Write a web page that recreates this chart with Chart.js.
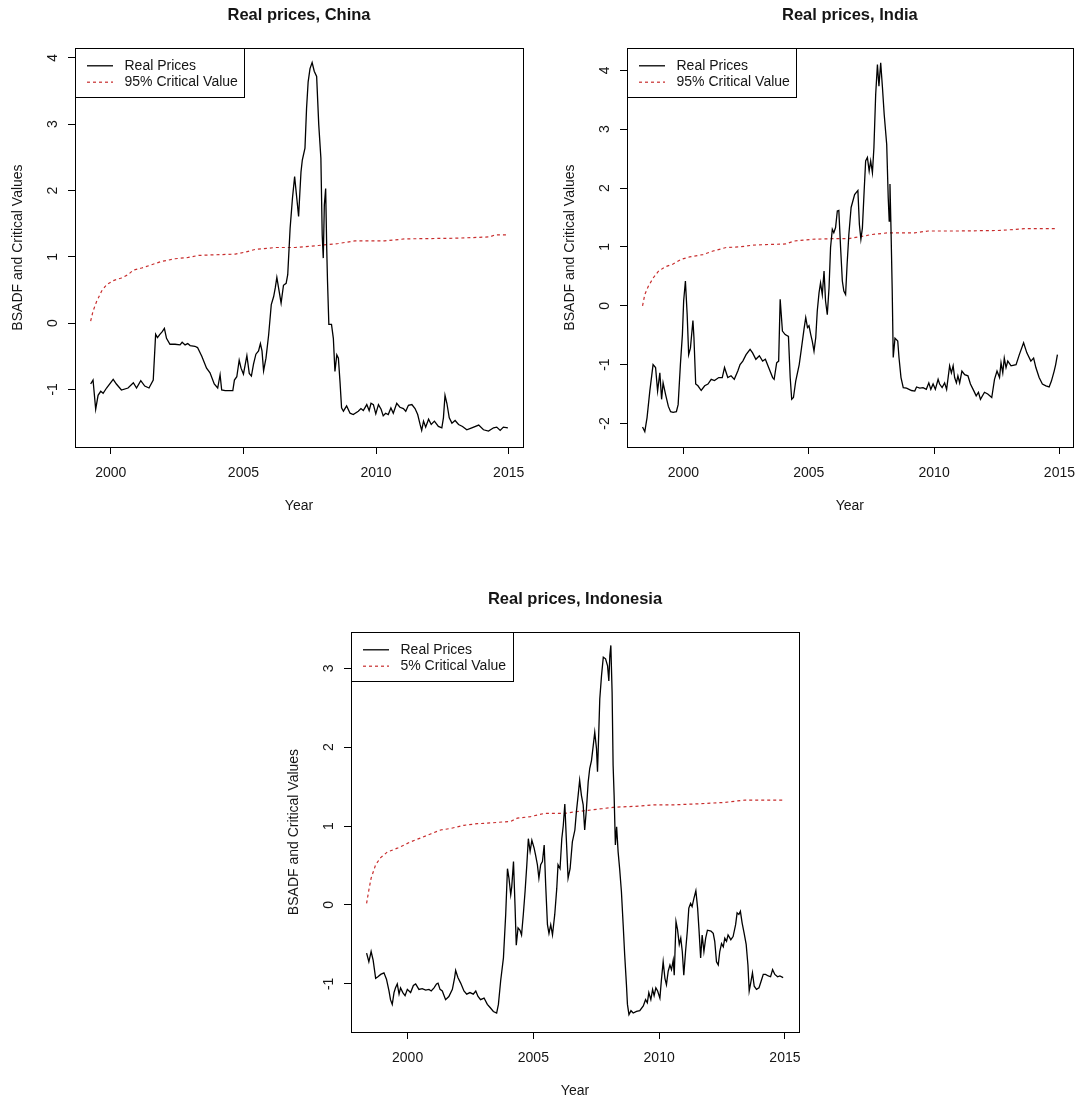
<!DOCTYPE html>
<html>
<head>
<meta charset="utf-8">
<title>Real prices BSADF</title>
<script src="https://cdn.jsdelivr.net/npm/chart.js@4.4.1/dist/chart.umd.min.js"></script>
<style>
  body { margin: 0; background: #fff; }
  #page { position: relative; width: 1086px; height: 1102px; background: #fff; }
  canvas { position: absolute; }
</style>
</head>
<body>
<div id="page">
  <canvas id="china" width="543" height="517" style="left:0px;top:0px"></canvas>
  <canvas id="india" width="534" height="517" style="left:552px;top:0px"></canvas>
  <canvas id="indonesia" width="543" height="518" style="left:276px;top:584px"></canvas>
</div>
<script>
// values, [year, value]
const chinaBsadf = [[1999.24,-0.92],[1999.33,-0.86],[1999.43,-1.30],[1999.52,-1.09],[1999.62,-1.03],[1999.71,-1.06],[1999.84,-0.98],[2000.09,-0.85],[2000.21,-0.92],[2000.40,-1.01],
  [2000.65,-0.98],[2000.85,-0.90],[2000.97,-0.98],[2001.13,-0.87],[2001.28,-0.95],[2001.44,-0.98],[2001.60,-0.86],[2001.69,-0.17],[2001.76,-0.22],[2001.85,-0.17],
  [2001.94,-0.13],[2002.02,-0.08],[2002.10,-0.23],[2002.23,-0.32],[2002.42,-0.32],[2002.61,-0.33],[2002.69,-0.29],[2002.80,-0.33],[2002.90,-0.31],[2002.99,-0.34],
  [2003.17,-0.35],[2003.27,-0.37],[2003.43,-0.50],[2003.61,-0.68],[2003.74,-0.75],[2003.90,-0.92],[2004.03,-0.98],[2004.12,-0.78],[2004.18,-1.01],[2004.31,-1.02],
  [2004.60,-1.02],[2004.66,-0.86],[2004.75,-0.81],[2004.84,-0.56],[2004.91,-0.68],[2005.00,-0.77],[2005.13,-0.49],[2005.22,-0.76],[2005.30,-0.80],[2005.38,-0.62],
  [2005.47,-0.47],[2005.57,-0.42],[2005.64,-0.31],[2005.70,-0.42],[2005.76,-0.72],[2005.85,-0.53],[2005.95,-0.18],[2006.05,0.28],[2006.14,0.40],[2006.20,0.53],
  [2006.26,0.69],[2006.35,0.47],[2006.42,0.30],[2006.51,0.57],[2006.61,0.60],[2006.67,0.73],[2006.76,1.43],[2006.85,1.89],[2006.93,2.21],[2007.01,1.89],
  [2007.08,1.61],[2007.13,1.99],[2007.17,2.28],[2007.22,2.46],[2007.32,2.64],[2007.38,3.24],[2007.44,3.64],[2007.51,3.84],[2007.59,3.93],[2007.67,3.80],
  [2007.76,3.72],[2007.84,2.99],[2007.92,2.49],[2007.97,1.33],[2008.01,0.98],[2008.05,1.78],[2008.10,2.03],[2008.14,1.13],[2008.17,0.63],[2008.22,-0.02],
  [2008.32,-0.02],[2008.39,-0.23],[2008.45,-0.73],[2008.52,-0.48],[2008.58,-0.53],[2008.64,-0.88],[2008.70,-1.28],[2008.77,-1.33],[2008.89,-1.25],[2009.02,-1.36],
  [2009.14,-1.38],[2009.33,-1.33],[2009.43,-1.29],[2009.52,-1.32],[2009.65,-1.23],[2009.74,-1.32],[2009.81,-1.21],[2009.90,-1.23],[2009.99,-1.37],[2010.09,-1.23],
  [2010.19,-1.30],[2010.27,-1.40],[2010.36,-1.36],[2010.46,-1.38],[2010.56,-1.28],[2010.65,-1.36],[2010.78,-1.21],[2010.90,-1.27],[2011.03,-1.29],[2011.12,-1.33],
  [2011.22,-1.24],[2011.35,-1.23],[2011.47,-1.29],[2011.57,-1.38],[2011.66,-1.53],[2011.72,-1.62],[2011.79,-1.48],[2011.87,-1.57],[2011.98,-1.45],[2012.08,-1.53],
  [2012.20,-1.48],[2012.35,-1.56],[2012.48,-1.58],[2012.54,-1.43],[2012.60,-1.09],[2012.67,-1.21],[2012.76,-1.43],[2012.86,-1.51],[2012.98,-1.47],[2013.11,-1.53],
  [2013.26,-1.56],[2013.42,-1.61],[2013.61,-1.58],[2013.87,-1.54],[2014.05,-1.61],[2014.24,-1.63],[2014.43,-1.58],[2014.55,-1.57],[2014.68,-1.62],[2014.80,-1.57],
  [2014.97,-1.58]];
const chinaCrit = [[1999.24,0.03],[1999.33,0.18],[1999.46,0.32],[1999.65,0.48],[1999.84,0.58],[2000.09,0.64],[2000.40,0.68],[2000.65,0.73],[2000.85,0.80],[2001.16,0.83],
  [2001.54,0.88],[2001.91,0.93],[2002.42,0.97],[2002.92,0.99],[2003.30,1.02],[2003.93,1.03],[2004.69,1.04],[2005.06,1.07],[2005.44,1.11],[2006.20,1.14],
  [2006.95,1.14],[2007.82,1.17],[2008.58,1.20],[2009.20,1.24],[2010.33,1.24],[2011.09,1.27],[2012.98,1.28],[2014.29,1.30],[2014.48,1.33],[2014.97,1.33]];

const indiaBsadf = [[1998.37,-2.06],[1998.46,-2.14],[1998.55,-1.90],[1998.66,-1.45],[1998.79,-1.00],[1998.89,-1.05],[1998.97,-1.45],[1999.06,-1.14],[1999.13,-1.59],[1999.19,-1.31],
  [1999.29,-1.51],[1999.40,-1.71],[1999.49,-1.80],[1999.59,-1.81],[1999.72,-1.80],[1999.79,-1.68],[1999.88,-1.00],[1999.96,-0.49],[2000.01,0.08],[2000.08,0.42],
  [2000.15,-0.15],[2000.21,-0.83],[2000.28,-0.72],[2000.38,-0.25],[2000.42,-0.54],[2000.49,-1.33],[2000.58,-1.36],[2000.71,-1.44],[2000.85,-1.36],[2000.98,-1.33],
  [2001.11,-1.25],[2001.24,-1.27],[2001.41,-1.22],[2001.55,-1.22],[2001.64,-1.05],[2001.77,-1.22],[2001.90,-1.19],[2002.03,-1.25],[2002.17,-1.11],[2002.26,-1.00],
  [2002.37,-0.94],[2002.50,-0.83],[2002.66,-0.74],[2002.76,-0.80],[2002.89,-0.91],[2003.03,-0.85],[2003.16,-0.94],[2003.27,-0.91],[2003.40,-1.05],[2003.56,-1.22],
  [2003.62,-1.25],[2003.72,-0.97],[2003.80,-0.94],[2003.86,0.11],[2003.95,-0.43],[2004.06,-0.49],[2004.19,-0.52],[2004.26,-1.22],[2004.32,-1.59],[2004.39,-1.56],
  [2004.48,-1.28],[2004.62,-1.00],[2004.71,-0.72],[2004.81,-0.40],[2004.88,-0.20],[2004.95,-0.37],[2005.01,-0.34],[2005.08,-0.49],[2005.14,-0.60],[2005.21,-0.77],
  [2005.28,-0.54],[2005.34,-0.09],[2005.41,0.22],[2005.47,0.39],[2005.54,0.19],[2005.61,0.59],[2005.67,0.08],[2005.74,-0.15],[2005.81,0.31],[2005.87,0.99],
  [2005.94,1.30],[2006.00,1.24],[2006.07,1.33],[2006.14,1.61],[2006.20,1.62],[2006.27,0.99],[2006.34,0.42],[2006.40,0.25],[2006.47,0.19],[2006.53,0.70],
  [2006.60,1.21],[2006.69,1.67],[2006.83,1.89],[2006.96,1.96],[2007.02,1.38],[2007.08,1.13],[2007.14,1.32],[2007.21,1.95],[2007.27,2.46],[2007.34,2.52],
  [2007.41,2.29],[2007.47,2.46],[2007.54,2.26],[2007.60,2.69],[2007.67,3.59],[2007.74,4.10],[2007.80,3.73],[2007.87,4.13],[2007.94,3.71],[2008.01,3.25],
  [2008.11,2.74],[2008.17,1.84],[2008.21,1.44],[2008.24,2.07],[2008.28,1.33],[2008.33,0.25],[2008.37,-0.88],[2008.44,-0.55],[2008.55,-0.60],[2008.60,-0.88],
  [2008.68,-1.22],[2008.77,-1.39],[2008.90,-1.40],[2009.10,-1.44],[2009.23,-1.45],[2009.30,-1.38],[2009.43,-1.40],[2009.56,-1.39],[2009.69,-1.42],[2009.79,-1.31],
  [2009.87,-1.42],[2009.96,-1.33],[2010.05,-1.42],[2010.16,-1.25],[2010.22,-1.33],[2010.32,-1.39],[2010.42,-1.31],[2010.50,-1.42],[2010.62,-1.02],[2010.69,-1.14],
  [2010.76,-1.02],[2010.82,-1.22],[2010.89,-1.31],[2010.95,-1.19],[2011.02,-1.31],[2011.11,-1.11],[2011.22,-1.17],[2011.35,-1.19],[2011.45,-1.33],[2011.59,-1.45],
  [2011.68,-1.53],[2011.77,-1.47],[2011.85,-1.59],[2012.01,-1.47],[2012.14,-1.50],[2012.30,-1.56],[2012.41,-1.25],[2012.51,-1.11],[2012.61,-1.22],[2012.67,-0.97],
  [2012.74,-1.14],[2012.80,-0.89],[2012.87,-1.05],[2012.94,-0.94],[2013.07,-1.02],[2013.27,-1.00],[2013.40,-0.83],[2013.57,-0.63],[2013.70,-0.80],[2013.86,-0.94],
  [2013.97,-0.89],[2014.06,-1.05],[2014.19,-1.22],[2014.32,-1.33],[2014.46,-1.36],[2014.59,-1.38],[2014.68,-1.28],[2014.79,-1.11],[2014.85,-1.00],[2014.92,-0.83]];
const indiaCrit = [[1998.37,0.00],[1998.46,0.19],[1998.60,0.33],[1998.79,0.47],[1998.99,0.58],[1999.26,0.66],[1999.59,0.71],[1999.92,0.79],[2000.25,0.83],[2000.78,0.87],
  [2001.18,0.93],[2001.71,0.99],[2002.24,1.00],[2002.76,1.03],[2003.29,1.04],[2004.08,1.05],[2004.42,1.10],[2005.14,1.13],[2005.94,1.14],[2006.60,1.14],
  [2007.51,1.21],[2008.17,1.24],[2009.23,1.24],[2009.76,1.27],[2010.95,1.27],[2012.67,1.28],[2013.60,1.31],[2014.92,1.31]];

const indonesiaBsadf = [[1998.37,-0.61],[1998.46,-0.72],[1998.55,-0.59],[1998.63,-0.70],[1998.73,-0.93],[1998.82,-0.91],[1998.93,-0.88],[1999.06,-0.86],[1999.16,-0.94],[1999.26,-1.09],
  [1999.32,-1.20],[1999.39,-1.26],[1999.46,-1.11],[1999.52,-1.05],[1999.59,-1.00],[1999.66,-1.13],[1999.72,-1.05],[1999.81,-1.11],[1999.90,-1.15],[1999.99,-1.07],
  [2000.12,-1.11],[2000.23,-1.02],[2000.32,-1.00],[2000.45,-1.07],[2000.58,-1.06],[2000.72,-1.08],[2000.85,-1.07],[2000.94,-1.09],[2001.05,-1.05],[2001.15,-1.00],
  [2001.21,-0.99],[2001.29,-1.07],[2001.38,-1.09],[2001.51,-1.20],[2001.64,-1.16],[2001.78,-1.07],[2001.87,-0.92],[2001.91,-0.83],[2002.00,-0.92],[2002.11,-0.99],
  [2002.24,-1.09],[2002.35,-1.13],[2002.48,-1.11],[2002.61,-1.13],[2002.71,-1.09],[2002.80,-1.16],[2002.90,-1.20],[2003.04,-1.18],[2003.17,-1.26],[2003.28,-1.30],
  [2003.41,-1.35],[2003.54,-1.37],[2003.61,-1.26],[2003.70,-0.96],[2003.81,-0.67],[2003.90,-0.12],[2003.97,0.46],[2004.03,0.34],[2004.10,0.13],[2004.14,0.23],
  [2004.21,0.55],[2004.27,0.00],[2004.32,-0.51],[2004.39,-0.29],[2004.47,-0.32],[2004.53,-0.38],[2004.60,-0.12],[2004.67,0.17],[2004.74,0.51],[2004.80,0.84],
  [2004.87,0.68],[2004.94,0.82],[2005.03,0.72],[2005.09,0.63],[2005.16,0.51],[2005.22,0.34],[2005.29,0.51],[2005.36,0.55],[2005.43,0.76],[2005.49,0.25],
  [2005.56,-0.25],[2005.62,-0.36],[2005.69,-0.25],[2005.76,-0.38],[2005.85,-0.12],[2005.93,0.21],[2005.98,0.51],[2006.06,0.46],[2006.13,0.84],[2006.19,1.01],
  [2006.25,1.28],[2006.31,0.84],[2006.38,0.34],[2006.46,0.46],[2006.55,0.80],[2006.65,0.95],[2006.71,1.18],[2006.78,1.39],[2006.84,1.58],[2006.91,1.39],
  [2006.98,1.27],[2007.04,0.95],[2007.11,1.22],[2007.18,1.56],[2007.24,1.73],[2007.31,1.83],[2007.38,2.02],[2007.44,2.19],[2007.51,1.98],[2007.55,1.69],
  [2007.60,2.19],[2007.64,2.61],[2007.71,2.91],[2007.78,3.14],[2007.87,3.12],[2007.95,3.03],[2008.00,2.84],[2008.04,3.16],[2008.08,3.29],[2008.13,2.70],
  [2008.17,1.77],[2008.21,1.39],[2008.26,0.76],[2008.31,0.99],[2008.37,0.67],[2008.43,0.46],[2008.50,0.17],[2008.57,-0.25],[2008.63,-0.63],[2008.70,-1.01],
  [2008.74,-1.26],[2008.80,-1.39],[2008.88,-1.34],[2008.97,-1.37],[2009.10,-1.35],[2009.23,-1.34],[2009.37,-1.28],[2009.46,-1.20],[2009.53,-1.24],[2009.59,-1.11],
  [2009.67,-1.20],[2009.74,-1.07],[2009.80,-1.15],[2009.87,-1.05],[2009.94,-1.09],[2010.03,-1.18],[2010.09,-0.95],[2010.16,-0.72],[2010.23,-0.93],[2010.29,-1.01],
  [2010.36,-0.84],[2010.43,-0.76],[2010.49,-0.82],[2010.56,-0.70],[2010.60,-0.89],[2010.67,-0.21],[2010.73,-0.31],[2010.80,-0.50],[2010.86,-0.42],[2010.92,-0.59],
  [2010.98,-0.89],[2011.05,-0.59],[2011.12,-0.33],[2011.18,-0.04],[2011.25,0.02],[2011.31,-0.02],[2011.38,0.08],[2011.46,0.18],[2011.53,-0.04],[2011.58,-0.29],
  [2011.65,-0.67],[2011.71,-0.38],[2011.78,-0.59],[2011.85,-0.42],[2011.92,-0.32],[2012.06,-0.33],[2012.15,-0.36],[2012.21,-0.46],[2012.28,-0.72],[2012.35,-0.76],
  [2012.41,-0.59],[2012.48,-0.49],[2012.55,-0.53],[2012.61,-0.42],[2012.68,-0.46],[2012.74,-0.38],[2012.85,-0.44],[2012.94,-0.40],[2013.04,-0.25],[2013.10,-0.10],
  [2013.17,-0.12],[2013.23,-0.08],[2013.30,-0.23],[2013.38,-0.36],[2013.46,-0.50],[2013.53,-0.76],[2013.58,-1.09],[2013.65,-0.97],[2013.71,-0.86],[2013.78,-1.03],
  [2013.87,-1.07],[2013.97,-1.05],[2014.05,-0.97],[2014.14,-0.88],[2014.23,-0.88],[2014.34,-0.90],[2014.43,-0.91],[2014.51,-0.82],[2014.60,-0.88],[2014.71,-0.91],
  [2014.80,-0.90],[2014.93,-0.92]];
const indonesiaCrit = [[1998.37,0.02],[1998.46,0.19],[1998.55,0.34],[1998.73,0.51],[1998.93,0.60],[1999.19,0.67],[1999.59,0.72],[1999.86,0.76],[2000.12,0.80],[2000.52,0.85],
  [2000.91,0.90],[2001.31,0.95],[2001.71,0.97],[2002.24,1.01],[2002.77,1.03],[2003.30,1.04],[2004.10,1.06],[2004.36,1.10],[2004.89,1.12],[2005.43,1.16],
  [2006.22,1.16],[2006.65,1.18],[2007.18,1.20],[2007.71,1.22],[2008.24,1.24],[2009.03,1.25],[2009.83,1.27],[2010.63,1.27],[2011.42,1.28],[2012.62,1.30],
  [2013.41,1.33],[2014.93,1.33]];

const xTicks = [2000, 2005, 2010, 2015];
const chinaYTicks = [-1, 0, 1, 2, 3, 4];
const indiaYTicks = [-2, -1, 0, 1, 2, 3, 4];
const indonesiaYTicks = [-1, 0, 1, 2, 3];

const FAMILY = '"Liberation Sans", Arial, Helvetica, sans-serif';
const TEXT = '#151515';

// draws the box round the plot and the legend in its top-left corner
const frameAndLegend = {
  id: 'frameAndLegend',
  afterDraw(chart) {
    const { ctx, chartArea: a } = chart;
    ctx.save();
    ctx.strokeStyle = '#000';
    ctx.lineWidth = 1;
    ctx.strokeRect(Math.round(a.left) + 0.5, Math.round(a.top) + 0.5, Math.round(a.width), Math.round(a.height));

    const ds = chart.data.datasets;
    ctx.font = '14px ' + FAMILY;
    const textW = Math.max(...ds.map(d => ctx.measureText(d.label).width));
    const x0 = Math.round(a.left) + 0.5, y0 = Math.round(a.top) + 0.5;
    const w = Math.round(49 + textW + 7), h = 49;
    ctx.fillStyle = '#fff';
    ctx.fillRect(x0, y0, w, h);
    ctx.strokeRect(x0, y0, w, h);
    ds.forEach((d, i) => {
      const y = y0 + 17.3 + i * 16.4;
      ctx.strokeStyle = d.borderColor;
      ctx.lineWidth = d.borderWidth;
      ctx.setLineDash(d.borderDash || []);
      ctx.beginPath();
      ctx.moveTo(x0 + 11.5, y);
      ctx.lineTo(x0 + 37.5, y);
      ctx.stroke();
      ctx.setLineDash([]);
      ctx.fillStyle = TEXT;
      ctx.textBaseline = 'middle';
      ctx.textAlign = 'left';
      ctx.fillText(d.label, x0 + 49, y);
    });
    ctx.restore();
  }
};

function drawPanel(id, title, bsadf, crit, critLabel, xRange, yRange, yTicks, padRight) {
  const font = { family: FAMILY, size: 14 };
  return new Chart(document.getElementById(id), {
    type: 'line',
    data: {
      datasets: [
        {
          label: 'Real Prices',
          data: bsadf.map(p => ({ x: p[0], y: p[1] })),
          borderColor: '#000',
          borderWidth: 1.3,
          pointRadius: 0,
          tension: 0
        },
        {
          label: critLabel,
          data: crit.map(p => ({ x: p[0], y: p[1] })),
          borderColor: 'rgb(200,45,45)',
          borderWidth: 1.2,
          borderDash: [3, 3],
          pointRadius: 0,
          tension: 0
        }
      ]
    },
    options: {
      responsive: false,
      animation: false,
      events: [],
      layout: { padding: { left: 0, right: padRight, top: 0, bottom: 0 } },
      plugins: {
        legend: { display: false },
        tooltip: { enabled: false },
        title: {
          display: true,
          text: title,
          fullSize: false,
          color: TEXT,
          font: { family: FAMILY, size: 16.5, weight: 'bold' },
          padding: { top: 5.6, bottom: 22.6 }
        }
      },
      scales: {
        x: {
          type: 'linear',
          min: xRange[0],
          max: xRange[1],
          afterBuildTicks: s => { s.ticks = xTicks.map(v => ({ value: v })); },
          afterFit: s => { s.height = 70; },
          grid: { drawOnChartArea: false, tickLength: 7, color: '#000', lineWidth: 1 },
          border: { display: false },
          ticks: { color: TEXT, font, padding: 10.6, maxRotation: 0, autoSkip: false, callback: v => String(v) },
          title: { display: true, text: 'Year', color: TEXT, font, padding: { top: 0, bottom: 2.6 } }
        },
        y: {
          type: 'linear',
          min: yRange[0],
          max: yRange[1],
          afterBuildTicks: s => { s.ticks = yTicks.map(v => ({ value: v })); },
          afterFit: s => { s.width = 75; },
          grid: { drawOnChartArea: false, tickLength: 7, color: '#000', lineWidth: 1 },
          border: { display: false },
          ticks: { color: TEXT, font, padding: 9, minRotation: 90, maxRotation: 90, crossAlign: 'center', autoSkip: false, callback: v => String(v) },
          title: { display: true, text: 'BSADF and Critical Values', color: TEXT, font, padding: { top: 9.6, bottom: 0 } }
        }
      }
    },
    plugins: [frameAndLegend]
  });
}

drawPanel('china', 'Real prices, China', chinaBsadf, chinaCrit, '95% Critical Value',
  [1998.65, 2015.54], [-1.87, 4.15], chinaYTicks, 20);
drawPanel('india', 'Real prices, India', indiaBsadf, indiaCrit, '95% Critical Value',
  [1997.75, 2015.53], [-2.40, 4.38], indiaYTicks, 11);
drawPanel('indonesia', 'Real prices, Indonesia', indonesiaBsadf, indonesiaCrit, '5% Critical Value',
  [1997.75, 2015.56], [-1.61, 3.46], indonesiaYTicks, 20);
</script>
</body>
</html>
